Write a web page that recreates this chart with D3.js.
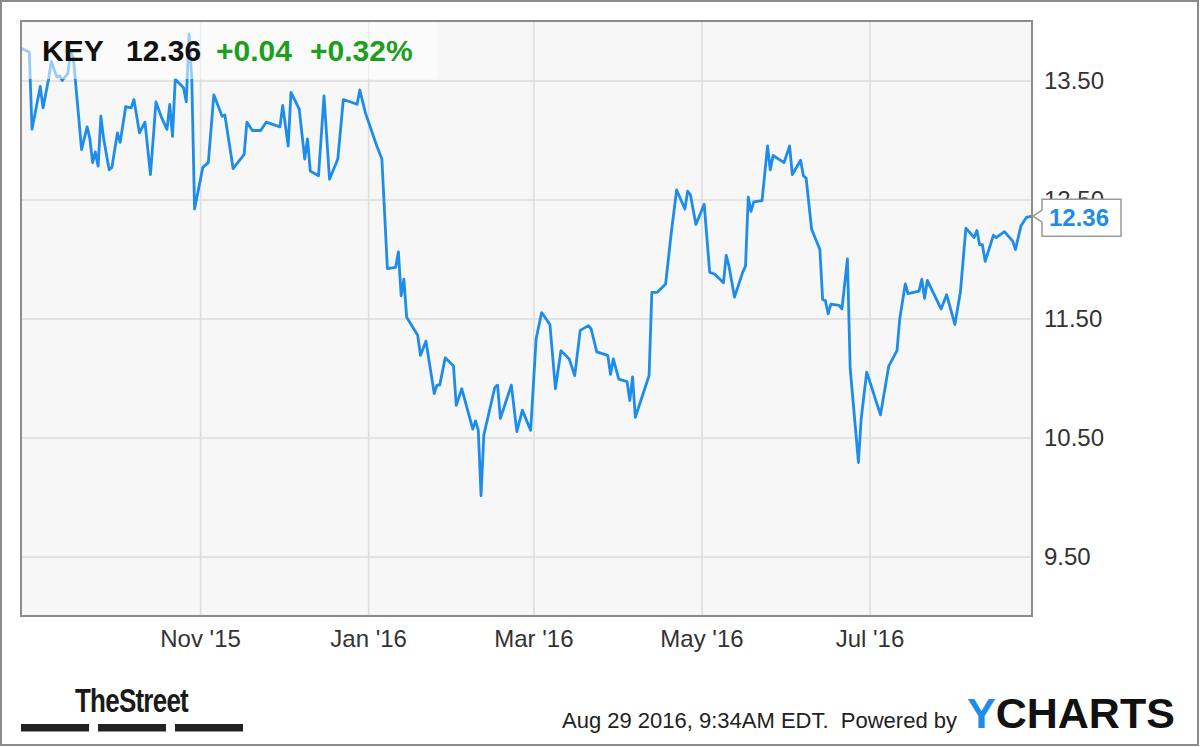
<!DOCTYPE html>
<html>
<head>
<meta charset="utf-8">
<script src="https://cdn.jsdelivr.net/npm/d3@7"></script>
<style>
  body { margin: 0; background: #fff; }
  text { font-family: "Liberation Sans", Arial, sans-serif; }
</style>
</head>
<body>
<svg id="chart" width="1200" height="747"></svg>
<script>
// KEY daily close
var dates = [
  "2015-08-28","2015-08-31","2015-09-01","2015-09-04","2015-09-05","2015-09-07","2015-09-08","2015-09-10","2015-09-11","2015-09-12",
  "2015-09-14","2015-09-15","2015-09-16","2015-09-19","2015-09-21","2015-09-22","2015-09-23","2015-09-24","2015-09-25","2015-09-26",
  "2015-09-27","2015-09-29","2015-09-30","2015-10-02","2015-10-03","2015-10-05","2015-10-07","2015-10-08","2015-10-10","2015-10-12",
  "2015-10-14","2015-10-16","2015-10-18","2015-10-20","2015-10-21","2015-10-22","2015-10-23","2015-10-26","2015-10-27","2015-10-28",
  "2015-10-29","2015-10-30","2015-11-02","2015-11-04","2015-11-06","2015-11-09","2015-11-10","2015-11-13","2015-11-17","2015-11-18",
  "2015-11-20","2015-11-23","2015-11-25","2015-11-30","2015-12-01","2015-12-03","2015-12-04","2015-12-07","2015-12-09","2015-12-10",
  "2015-12-11","2015-12-14","2015-12-16","2015-12-18","2015-12-21","2015-12-23","2015-12-28","2015-12-29","2015-12-31","2016-01-04",
  "2016-01-06","2016-01-08","2016-01-11","2016-01-12","2016-01-13","2016-01-14","2016-01-15","2016-01-19","2016-01-20","2016-01-22",
  "2016-01-25","2016-01-26","2016-01-27","2016-01-29","2016-02-01","2016-02-02","2016-02-04","2016-02-08","2016-02-09","2016-02-10",
  "2016-02-11","2016-02-12","2016-02-16","2016-02-17","2016-02-18","2016-02-22","2016-02-24","2016-02-26","2016-02-29","2016-03-02",
  "2016-03-04","2016-03-07","2016-03-09","2016-03-11","2016-03-14","2016-03-16","2016-03-18","2016-03-21","2016-03-22","2016-03-24",
  "2016-03-28","2016-03-29","2016-03-30","2016-04-01","2016-04-04","2016-04-05","2016-04-06","2016-04-07","2016-04-10","2016-04-12",
  "2016-04-13","2016-04-15","2016-04-18","2016-04-20","2016-04-22","2016-04-25","2016-04-26","2016-04-27","2016-04-29","2016-05-02",
  "2016-05-04","2016-05-06","2016-05-09","2016-05-10","2016-05-11","2016-05-13","2016-05-16","2016-05-17","2016-05-18","2016-05-19",
  "2016-05-20","2016-05-23","2016-05-25","2016-05-26","2016-05-27","2016-05-31","2016-06-02","2016-06-03","2016-06-06","2016-06-07",
  "2016-06-08","2016-06-10","2016-06-13","2016-06-14","2016-06-15","2016-06-16","2016-06-17","2016-06-20","2016-06-21","2016-06-23",
  "2016-06-24","2016-06-27","2016-06-28","2016-06-30","2016-07-05","2016-07-08","2016-07-11","2016-07-12","2016-07-14","2016-07-15",
  "2016-07-19","2016-07-20","2016-07-21","2016-07-22","2016-07-27","2016-07-29","2016-08-01","2016-08-03","2016-08-05","2016-08-08",
  "2016-08-09","2016-08-10","2016-08-11","2016-08-12","2016-08-15","2016-08-16","2016-08-19","2016-08-22","2016-08-23","2016-08-25",
  "2016-08-27","2016-08-29"
];
var prices = [
  13.77,13.74,13.09,13.45,13.27,13.51,13.66,13.53,13.54,13.50,
  13.56,13.75,13.69,12.92,13.11,13.01,12.81,12.90,12.78,13.20,
  13.01,12.75,12.77,13.06,12.98,13.28,13.27,13.34,13.06,13.15,
  12.71,13.32,13.19,13.09,13.30,13.03,13.51,13.44,13.32,13.89,
  13.51,12.42,12.77,12.81,13.38,13.20,13.21,12.76,12.88,13.15,
  13.08,13.08,13.15,13.11,13.29,12.95,13.40,13.26,12.84,13.01,
  12.74,12.70,13.37,12.67,12.84,13.34,13.30,13.42,13.23,12.96,
  12.84,11.92,11.93,12.06,11.69,11.83,11.51,11.36,11.19,11.31,
  10.87,10.94,10.94,11.17,11.10,10.77,10.91,10.57,10.64,10.56,
  10.01,10.52,10.92,10.94,10.66,10.94,10.55,10.73,10.56,11.33,
  11.55,11.45,10.91,11.23,11.16,11.02,11.40,11.44,11.41,11.22,
  11.19,11.03,11.16,10.99,10.97,10.81,11.01,10.67,10.88,11.02,
  11.72,11.72,11.79,12.21,12.58,12.42,12.57,12.54,12.29,12.46,
  11.89,11.87,11.80,12.03,11.94,11.68,11.89,11.94,12.52,12.40,
  12.48,12.49,12.95,12.75,12.87,12.81,12.95,12.71,12.83,12.70,
  12.68,12.25,12.08,11.66,11.65,11.54,11.62,11.61,11.58,12.00,
  11.08,10.29,10.66,11.05,10.69,11.10,11.23,11.50,11.79,11.71,
  11.73,11.83,11.67,11.82,11.58,11.70,11.45,11.72,12.26,12.18,
  12.24,12.12,12.12,11.98,12.20,12.18,12.23,12.15,12.08,12.28,
  12.35,12.36
];
var yTicks = [9.5, 10.5, 11.5, 12.5, 13.5];
var xTicks = ["2015-11-01", "2016-01-01", "2016-03-01", "2016-05-01", "2016-07-01"];
var ticker = "KEY", lastPrice = "12.36", change = "+0.04", changePct = "+0.32%";
var stamp = "Aug 29 2016, 9:34AM EDT.  Powered by";

var parse = d3.timeParse("%Y-%m-%d");
var data = dates.map(function(d, i) { return {date: parse(d), price: prices[i]}; });

var margin = {left: 21, right: 168, top: 21, bottom: 131};
var width = 1200 - margin.left - margin.right;
var height = 747 - margin.top - margin.bottom;

var svg = d3.select("svg#chart");

// outer frame
svg.append("rect").attr("x", 1).attr("y", 1).attr("width", 1197).attr("height", 744)
    .attr("fill", "#fff").attr("stroke", "#8c8c8c").attr("stroke-width", 2);

var g = svg.append("g").attr("transform", "translate(" + margin.left + "," + margin.top + ")");

var x = d3.scaleTime().domain([parse("2015-08-28"), parse("2016-08-29")]).range([0, width]);
var y = d3.scaleLinear().domain([9, 14]).range([height, 0]);

g.append("rect").attr("width", width).attr("height", height).attr("fill", "#f7f7f7");

// grid
g.append("g").attr("class", "grid")
    .call(d3.axisLeft(y).tickValues(yTicks).tickSize(-width).tickFormat(""))
    .call(function(s) { s.select(".domain").remove(); s.selectAll("line").attr("stroke", "#dcdcdc").attr("stroke-width", 1.5); });
g.append("g").attr("class", "grid").attr("transform", "translate(0," + height + ")")
    .call(d3.axisBottom(x).tickValues(xTicks.map(parse)).tickSize(-height).tickFormat(""))
    .call(function(s) { s.select(".domain").remove(); s.selectAll("line").attr("stroke", "#dcdcdc").attr("stroke-width", 1.5); });

// price line
g.append("path").datum(data).attr("fill", "none").attr("stroke", "#1e8ceb").attr("stroke-width", 2.8)
    .attr("stroke-linejoin", "round")
    .attr("d", d3.line().x(function(d) { return x(d.date); }).y(function(d) { return y(d.price); }));

// header veil + quote
g.append("rect").attr("width", 416).attr("height", 58).attr("fill", "#fff").attr("opacity", 0.55);

svg.append("rect").attr("x", margin.left).attr("y", margin.top).attr("width", width).attr("height", height)
    .attr("fill", "none").attr("stroke", "#8c8c8c").attr("stroke-width", 2);

var head = svg.append("g").style("font-size", "30px").style("font-weight", "bold");
head.append("text").attr("x", 42).attr("y", 61).attr("fill", "#111").text(ticker);
head.append("text").attr("x", 126).attr("y", 61).attr("fill", "#111").text(lastPrice);
head.append("text").attr("x", 216).attr("y", 61).attr("fill", "#1e9e1e").text(change);
head.append("text").attr("x", 310).attr("y", 61).attr("fill", "#1e9e1e").text(changePct);

// axes
var yAxis = g.append("g").attr("transform", "translate(" + width + ",0)")
    .call(d3.axisRight(y).tickValues(yTicks).tickSize(0).tickPadding(12).tickFormat(d3.format(".2f")));
yAxis.select(".domain").remove();
yAxis.selectAll("text").style("font-size", "24px").attr("fill", "#333").style("font-family", "Liberation Sans, Arial, sans-serif");

var xAxis = g.append("g").attr("transform", "translate(0," + height + ")")
    .call(d3.axisBottom(x).tickValues(xTicks.map(parse)).tickSize(0).tickPadding(14).tickFormat(d3.timeFormat("%b '%y")));
xAxis.select(".domain").remove();
xAxis.selectAll("text").style("font-size", "24px").attr("fill", "#333").style("font-family", "Liberation Sans, Arial, sans-serif");

// last price callout (sits over the 12.50 label, as in the original)
var last = data[data.length - 1];
var lx = margin.left + x(last.date), ly = margin.top + y(last.price);
var bx = lx + 10, bw = 79, bh = 37;
svg.append("path")
    .attr("d", "M" + (lx + 1) + "," + ly + "L" + bx + "," + (ly - 6) + "V" + (ly - 17) + "h" + bw + "v" + bh + "h" + (-bw) + "V" + (ly + 6) + "Z")
    .attr("fill", "#fff").attr("stroke", "#9a9a9a").attr("stroke-width", 1.5);
svg.append("text").attr("x", bx + 7).attr("y", ly + 10).style("font-size", "24px").style("font-weight", "bold")
    .attr("fill", "#1e8ceb").text(lastPrice);

// footer
svg.append("text").attr("x", 75).attr("y", 712).attr("textLength", 113).attr("lengthAdjust", "spacingAndGlyphs")
    .style("font-size", "34px").style("font-weight", "bold").style("letter-spacing", "-1px").attr("fill", "#1a1a1a").text("TheStreet");
for (var i = 0; i < 3; i++) {
  svg.append("rect").attr("x", 21 + i * 77).attr("y", 724).attr("width", 68).attr("height", 7.5).attr("fill", "#222");
}
svg.append("text").attr("x", 957).attr("y", 728).attr("text-anchor", "end").style("white-space", "pre")
    .style("font-size", "22px").attr("fill", "#222").text(stamp);
var yc = svg.append("text").attr("x", 967).attr("y", 728).style("font-size", "43px").style("font-weight", "bold");
yc.append("tspan").attr("fill", "#1e8ceb").text("Y");
yc.append("tspan").attr("fill", "#111").text("CHARTS");
</script>
</body>
</html>
